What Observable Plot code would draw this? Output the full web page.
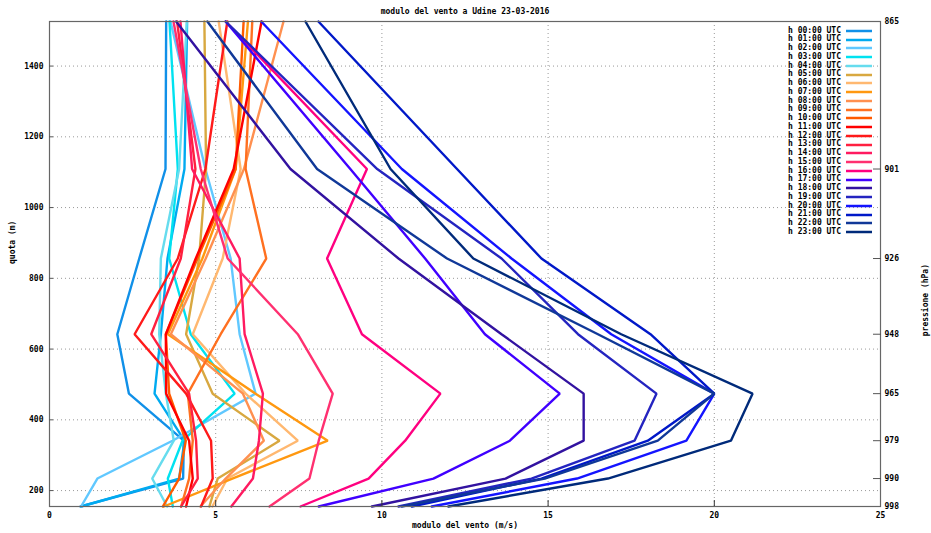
<!DOCTYPE html>
<html><head><meta charset="utf-8">
<script src="https://cdn.jsdelivr.net/npm/d3@7"></script>
<script src="https://cdn.jsdelivr.net/npm/@observablehq/plot@0.6"></script>
<style>
body{margin:0;background:#fff;}
#wrap{position:relative;width:931px;height:533px;font-family:"DejaVu Sans Mono",monospace;font-weight:bold;}
#legend{position:absolute;left:760px;top:26.6px;width:112px;font-size:8px;}
#legend .row{height:8.75px;line-height:8.75px;display:flex;justify-content:flex-end;align-items:center;white-space:pre;}
#legend svg{margin-left:5px;}
</style></head>
<body><div id="wrap"><div id="legend"></div></div>
<script>
const hours = ["00","01","02","03","04","05","06","07","08","09","10","11","12","13","14","15","16","17","18","19","20","21","22","23"];
// quota levels (m) and corresponding pressure labels (hPa)
const quota = [155, 234, 341, 474, 642, 856, 1109, 1526];
const pressure = [998, 990, 979, 965, 948, 926, 901, 865];
const xTicks = [0, 5, 10, 15, 20, 25];
const yTicks = [200, 400, 600, 800, 1000, 1200, 1400];
const colors = ["#1090e8","#00aaf0","#60c8ff","#00e2f0","#66dcee","#d8a840","#ffb870","#ff9810",
                "#ff9050","#ff7020","#ff5a00","#ff0000","#ff1a1a","#ff2040","#ff1a60","#ff3070",
                "#ff0080","#4000ff","#3212a0","#2424c0","#1414ff","#0018c8","#103898","#002a7a"];
// wind speed (m/s) at each quota level, bottom to top
const v00 = [0.93, 4.02, 4.04, 2.39, 2.04, 2.70, 3.49, 3.51];
const v01 = [0.95, 3.90, 4.06, 3.16, 3.35, 3.55, 4.06, 4.14];
const v02 = [0.95, 1.44, 3.70, 6.20, 5.72, 5.45, 4.69, 3.64];
const v03 = [3.71, 3.56, 4.00, 5.57, 4.25, 3.60, 3.86, 3.61];
const v04 = [3.54, 3.09, 3.74, 3.50, 3.30, 3.35, 3.90, 4.13];
const v05 = [4.81, 5.06, 6.92, 4.91, 4.11, 4.50, 4.71, 4.66];
const v06 = [4.90, 5.35, 7.47, 5.90, 4.31, 5.21, 5.75, 5.09];
const v07 = [3.44, 5.50, 8.37, 6.20, 3.56, 4.60, 5.60, 5.97];
const v08 = [4.54, 5.30, 6.45, 5.82, 3.65, 4.70, 5.85, 7.04];
const v09 = [3.96, 4.20, 4.31, 4.16, 5.15, 6.52, 5.90, 6.10];
const v10 = [3.41, 3.90, 4.10, 3.60, 3.50, 4.45, 5.60, 5.84];
const v11 = [4.11, 4.31, 4.20, 3.51, 3.50, 4.40, 5.54, 6.38];
const v12 = [4.56, 4.91, 4.86, 4.11, 2.56, 3.86, 4.69, 5.35];
const v13 = [3.96, 4.46, 4.41, 4.20, 3.06, 3.95, 4.39, 3.84];
const v14 = [5.47, 6.12, 6.30, 6.42, 5.87, 5.72, 4.29, 3.94];
const v15 = [6.62, 7.82, 8.10, 8.52, 7.47, 5.36, 4.55, 3.73];
const v16 = [7.55, 9.60, 10.70, 11.76, 9.40, 8.35, 9.55, 5.30];
const v17 = [8.10, 11.55, 13.85, 15.35, 13.10, 11.30, 9.05, 5.30];
const v18 = [9.70, 13.72, 16.07, 16.07, 13.60, 10.50, 7.25, 3.81];
const v19 = [10.50, 14.50, 17.60, 18.26, 15.90, 13.60, 9.86, 5.30];
const v20 = [11.50, 15.87, 19.16, 20.00, 16.90, 13.90, 10.60, 6.37];
const v21 = [10.90, 14.80, 18.00, 20.00, 18.08, 14.80, 12.26, 8.09];
const v22 = [10.60, 14.90, 18.30, 20.00, 16.50, 11.96, 8.05, 4.75];
const v23 = [12.00, 16.80, 20.50, 21.15, 17.20, 12.75, 10.26, 7.70];
const series = [v00,v01,v02,v03,v04,v05,v06,v07,v08,v09,v10,v11,v12,v13,v14,v15,v16,v17,v18,v19,v20,v21,v22,v23];
const labels = hours.map(h => `h ${h}:00 UTC`);

const rows = series.flatMap((vals, i) => vals.map((v, j) => ({hour: hours[i], v, q: quota[j]})));

const font = {fontFamily: "DejaVu Sans Mono", fontWeight: "bold", fontSize: 8};

const chart = Plot.plot({
  width: 931, height: 533,
  marginLeft: 49, marginRight: 51, marginTop: 21, marginBottom: 27,
  x: {domain: [0, 25]},
  y: {domain: [155, 1526]},
  color: {domain: hours, range: colors},
  style: {fontFamily: "DejaVu Sans Mono", fontWeight: "bold", fontSize: "8px", background: "#fff", color: "#000"},
  marks: [
    Plot.gridX(xTicks.slice(1, -1), {stroke: "#999", strokeOpacity: 1, strokeDasharray: "1,3"}),
    Plot.gridY(yTicks, {stroke: "#999", strokeOpacity: 1, strokeDasharray: "1,3"}),
    Plot.line(rows, {x: "v", y: "q", z: "hour", stroke: "hour", strokeWidth: 2.4, strokeLinejoin: "miter"}),
    Plot.frame({stroke: "#666", strokeWidth: 1.2}),
    Plot.axisX(xTicks, {anchor: "bottom", tickSize: 0, tickPadding: 6, tickFormat: d => String(d), label: null, ...font}),
    Plot.axisX(xTicks.slice(1, -1), {anchor: "bottom", tickSize: -6, tickFormat: () => "", label: null, stroke: "#333"}),
    Plot.axisY(yTicks, {anchor: "left", tickSize: 0, tickPadding: 6, tickFormat: d => String(d), label: null, ...font}),
    Plot.axisY(yTicks, {anchor: "left", tickSize: -4, tickFormat: () => "", label: null, stroke: "#555"}),
    Plot.axisY(quota, {anchor: "right", tickSize: 0, tickPadding: 4, tickFormat: d => String(pressure[quota.indexOf(d)]), label: null, ...font}),
    Plot.axisY(quota.slice(1, -1), {anchor: "right", tickSize: -8, tickFormat: () => "", label: null, stroke: "#555"}),
    Plot.text(["modulo del vento a Udine 23-03-2016"], {frameAnchor: "top", dy: -13, ...font}),
    Plot.text(["modulo del vento (m/s)"], {frameAnchor: "bottom", dy: 21, ...font}),
    Plot.text(["quota (m)"], {frameAnchor: "left", dx: -37, rotate: -90, ...font}),
    Plot.text(["pressione (hPa)"], {frameAnchor: "right", dx: 45, rotate: -90, ...font})
  ]
});
document.getElementById("wrap").prepend(chart);

const legend = d3.select("#legend");
labels.forEach((t, i) => {
  const r = legend.append("div").attr("class", "row");
  r.append("span").text(t);
  const s = r.append("svg").attr("width", 26).attr("height", 4);
  s.append("line").attr("x1", 0).attr("x2", 26).attr("y1", 2).attr("y2", 2)
    .attr("stroke", colors[i]).attr("stroke-width", 2.5);
});
</script></body></html>
